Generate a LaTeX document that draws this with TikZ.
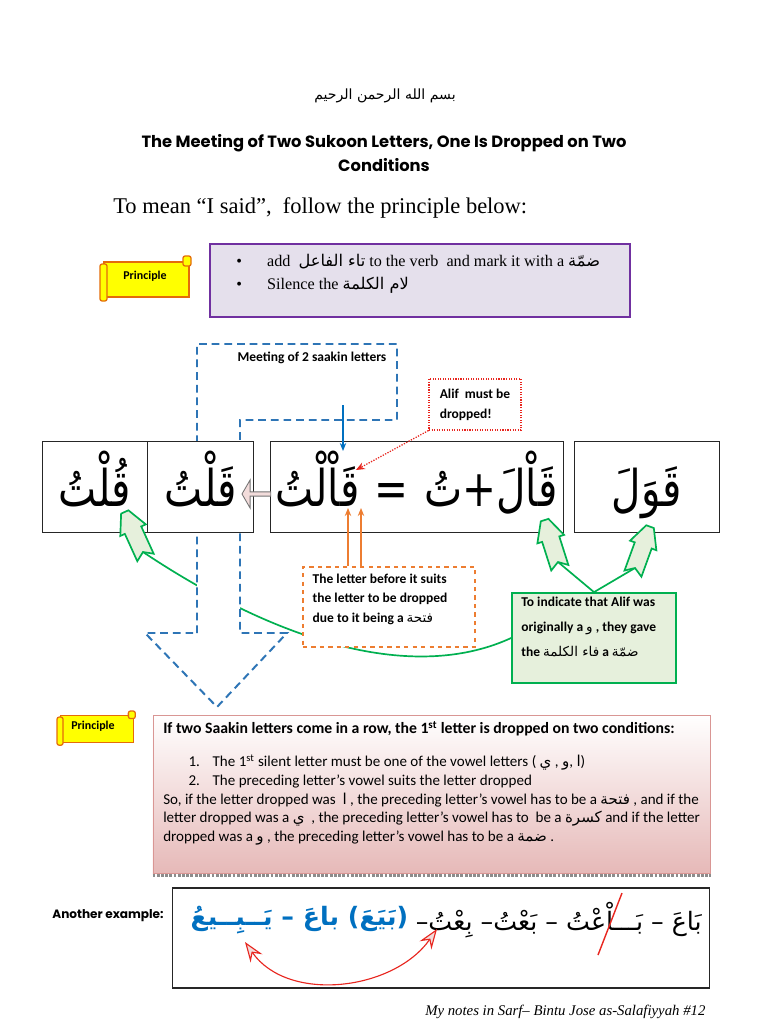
\documentclass[tikz,border=0pt]{standalone}
\usepackage{fontspec}
\setmainfont{Liberation Serif}
\setsansfont{Carlito}
\newfontfamily\arabicfont[Script=Arabic]{DejaVu Sans}
\newfontfamily\bigarab[Script=Arabic,FakeStretch=0.8]{DejaVu Sans}
\newfontfamily\headfont{Poppins}
\TeXXeTstate=1
\usepackage{xcolor}
\definecolor{cDash}{HTML}{2E75B6}
\definecolor{cPurp}{HTML}{7030A0}
\definecolor{cLav}{HTML}{E5E0EC}
\definecolor{cScroll}{HTML}{FFFF00}
\definecolor{cScrollEdge}{HTML}{E46C0A}
\definecolor{cGreen}{HTML}{00B050}
\definecolor{cGreenFill}{HTML}{E6F0DC}
\definecolor{cOrange}{HTML}{ED7D31}
\definecolor{cRed}{HTML}{E8261F}
\definecolor{cPinkArr}{HTML}{F2DCDB}
\definecolor{cPinkBox}{HTML}{E6B9B8}
\definecolor{cPinkEdge}{HTML}{D99694}
\definecolor{cArBlue}{HTML}{0070C0}
\usepackage{tikz}
\usetikzlibrary{arrows.meta,positioning,calc,shapes.arrows}
\newcommand\arb[1]{{\arabicfont\mdseries\beginR #1\endR}}

\begin{document}
\begin{tikzpicture}[x=0.025cm,y=-0.025cm,
  font=\sffamily,
  wordbox/.style={draw=black!85,fill=white,line width=0.6pt,minimum height=2.275cm,
    inner sep=0pt,text height=1.25cm,text depth=0.25cm,font=\bigarab\fontsize{36}{40}\selectfont},
  note/.style={font=\sffamily\bfseries\fontsize{9.6}{14}\selectfont,align=left,inner sep=0pt},
  plabel/.style={font=\sffamily\bfseries\fontsize{8.5}{10}\selectfont,inner sep=0pt},
  titlef/.style={font=\headfont\bfseries\fontsize{11.6}{14}\selectfont,inner sep=0pt},
  dashline/.style={cDash,line width=1.4pt,dash pattern=on 5.5pt off 3.5pt},
  gline/.style={cGreen,line width=1.2pt},
  gfill/.style={draw=cGreen,fill=cGreenFill,line width=1.2pt,line join=miter},
  scrollf/.style={draw=cScrollEdge,fill=cScroll,line width=0.9pt},
  oarrow/.style={-{Stealth[length=2mm,width=1.6mm]},cOrange,line width=1pt},
  garrow/.pic={\path[gfill] (0,0) -- (-6,-9) -- (24,-9) -- (24,-14) -- (44,-4)
    -- (44,4) -- (24,14) -- (24,9) -- (-6,9) -- cycle;},
  scroll/.pic={\path[scrollf] (4,6) rectangle (89,41);
    \path[scrollf,rounded corners=1.5pt] (0,8) rectangle (7,45);
    \path[scrollf,rounded corners=1.5pt] (83,0) rectangle (91,10);}]

\useasboundingbox (0,0) rectangle (768,1024);
\fill[white] (0,0) rectangle (768,1024);

% heading
\node[font=\arabicfont\fontsize{10}{12}\selectfont] (basmala) at (385,96) {\beginR بسم الله الرحمن الرحيم\endR};
\node[titlef] (title) at (384,143) {The Meeting of Two Sukoon Letters, One Is Dropped on Two};
\node[titlef] (title2) at (384,165) {Conditions};
\node[font=\rmfamily\fontsize{16}{18}\selectfont,anchor=west,inner sep=0pt] (mean) at (113,208)
  {To mean “I said”,\ \ follow the principle below:};

% first principle
\pic at (100,256) {scroll};
\node[plabel] (prin1) at (145,276) {Principle};
\node[draw=cPurp,fill=cLav,line width=2pt,minimum width=10.5cm,minimum height=1.825cm] (howto) at (420,280.5) {};
\node[font=\rmfamily\fontsize{11.5}{16.4}\selectfont,align=left,anchor=north west,inner sep=0pt] (howtotext) at (236,254)
  {\makebox[22pt][l]{\textbullet}add\ \ \arb{تاء الفاعل} to the verb\ \ and mark it with a \arb{ضمّة}\\
   \makebox[22pt][l]{\textbullet}Silence the \arb{لام الكلمة}};

% green connector behind everything
\coordinate (nqult) at (143,552);
\coordinate (nqaal) at (558,562);
\coordinate (nqawl) at (635,568);
\node[draw=cGreen,fill=cGreenFill,line width=1.2pt,minimum width=4.1cm,minimum height=2.25cm] (alifwaw) at (594,638) {};
\draw[gline] (alifwaw.west) .. controls (420,680) and (290,650) .. (nqult);

% dashed bent arrow
\draw[dashline,fill=white] (197,633) -- (197,344) -- (397,344) -- (397,420) -- (240,420)
  -- (240,633) -- (287,633) -- (217,707) -- (145,633) -- cycle;
\node[note] (meet) at (312,358) {Meeting of 2 saakin letters};

% the words
\node[wordbox,minimum width=2.625cm] (qultu) at (94.5,486.5) {\beginR قُلْتُ\endR};
\node[wordbox,minimum width=2.65cm,right=0pt of qultu] (qaltu) {\beginR قَلْتُ\endR};
\node[wordbox,minimum width=7.325cm] (qaaltu) at (416.5,486.5) {\beginR قَاْلَ+تُ\hspace{11pt}=\hspace{11pt}قَاْلْتُ\endR};
\node[wordbox,minimum width=3.625cm] (qawala) at (646.5,486.5) {\beginR قَوَلَ\endR};
\node[single arrow,shape border rotate=180,draw=black!55,fill=cPinkArr,line width=0.6pt,
  minimum height=0.72cm,minimum width=0.7cm,single arrow head extend=0.06cm,
  single arrow tip angle=120,inner sep=0pt] (larr) at (257,494) {};

% notes and pointers
\coordinate (alifdst) at (343,451);
\coordinate (meetsrc) at (343,405);
\draw[-{Stealth[length=2mm,width=1.6mm]},cArBlue,line width=0.9pt] (meetsrc) -- (alifdst);
\node[draw=cRed,densely dotted,line width=0.8pt,minimum width=2.3cm,minimum height=1.275cm,
  align=center,note] (alifnote) at (475,404.5) {Alif\ \ must be\\dropped!};
\coordinate (alifhead) at (356,470);
\draw[-{Stealth[length=2.2mm,width=1.8mm]},cRed,densely dotted,line width=0.9pt] (alifnote.south west) -- (alifhead);

\coordinate (lam1) at (348,508);
\coordinate (lam2) at (361,508);
\node[draw=cOrange,dashed,fill=white,line width=0.8pt,minimum width=4.3cm,minimum height=2cm] (fatha) at (389,607) {};
\node[note,anchor=north west] (fathatext) at ($(fatha.north west)+(10,7)$)
  {The letter before it suits\\the letter to be dropped\\due to it being a \arb{فتحة}};
\draw[oarrow] (fatha.north -| lam1) -- (lam1);
\draw[oarrow] (fatha.north -| lam2) -- (lam2);

\draw[gline] (alifwaw.north) -- (nqaal);
\draw[gline] (alifwaw.north) -- (nqawl);
\pic[rotate=114.5] at (nqult) {garrow};
\pic[rotate=107.7] at (nqaal) {garrow};
\pic[rotate=70] at (nqawl) {garrow};
\node[note,anchor=north west,font=\sffamily\bfseries\fontsize{9.6}{17.8}\selectfont] (alifwawtext) at ($(alifwaw.north west)+(10,5)$)
  {To indicate that Alif was\\originally a \arb{و} , they gave\\the \arb{فاء الكلمة} a \arb{ضمّة}};

% second principle
\pic[xscale=0.86,yscale=0.76] at (57,711) {scroll};
\node[plabel] (prin2) at (93,726) {Principle};
\node[draw=cPinkEdge,top color=white,bottom color=cPinkBox,line width=0.6pt,
  minimum width=13.925cm,minimum height=3.95cm] (rule) at (431.5,794) {};
\draw[black!45,line width=2pt,densely dotted] ([yshift=-1.5pt]rule.south west) -- ([yshift=-1.5pt]rule.south east);
\node[font=\sffamily\fontsize{10.7}{13.3}\selectfont,align=left,anchor=north west,inner sep=0pt] (ruletext) at (163,721)
  {{\bfseries\fontsize{11.2}{13.3}\selectfont If two Saakin letters come in a row, the 1\textsuperscript{st} letter is dropped on two conditions:}\\[10pt]
   \hspace*{18pt}1.\hspace{9pt}The 1\textsuperscript{st} silent letter must be one of the vowel letters ( \arb{ي} , \arb{و}, \arb{ا})\\
   \hspace*{18pt}2.\hspace{9pt}The preceding letter’s vowel suits the letter dropped\\
   So, if the letter dropped was\ \ \arb{ا} , the preceding letter’s vowel has to be a \arb{فتحة} , and if the\\
   letter dropped was a \arb{ي}\ \ , the preceding letter’s vowel has to\ \ be a \arb{كسرة} and if the letter\\
   dropped was a \arb{و} , the preceding letter’s vowel has to be a \arb{ضمة} .};

% another example
\node[titlef,font=\headfont\bfseries\fontsize{8.6}{10}\selectfont] (another) at (108,916) {Another example:};
\node[draw=black!85,line width=0.8pt,minimum width=13.4cm,minimum height=2.5cm] (exbox) at (441,938) {};
\node[font=\arabicfont\fontsize{18}{21}\selectfont,anchor=east,inner sep=0pt] (exblack) at (702,920)
  {\beginR بَاعَ – بَـــاْعْتُ – بَعْتُ– بِعْتُ–\endR};
\node[font=\arabicfont\bfseries\fontsize{18}{21}\selectfont,text=cArBlue,anchor=east,inner sep=0pt,left=5pt of exblack] (exblue)
  {\beginR (بَيَعَ) باعَ – يَــبِــيعُ\endR};
\draw[cRed,line width=1pt] (622,893) -- (598,955);
\coordinate (yabee) at (245,942);
\coordinate (bitu) at (437,929);
\draw[{Stealth[length=0.5cm,width=0.36cm,inset=0.17cm,fill=cPinkArr]}-{Stealth[length=0.5cm,width=0.36cm,inset=0.17cm,fill=cPinkArr]},
  cRed,line width=0.8pt] (yabee) to[out=-55,in=-125] (bitu);

% footer
\node[font=\rmfamily\itshape\fontsize{10.5}{12}\selectfont,anchor=west,inner sep=0pt] (foot) at (425,1012)
  {My notes in Sarf– Bintu Jose as-Salafiyyah \#12};
\end{tikzpicture}
\end{document}
